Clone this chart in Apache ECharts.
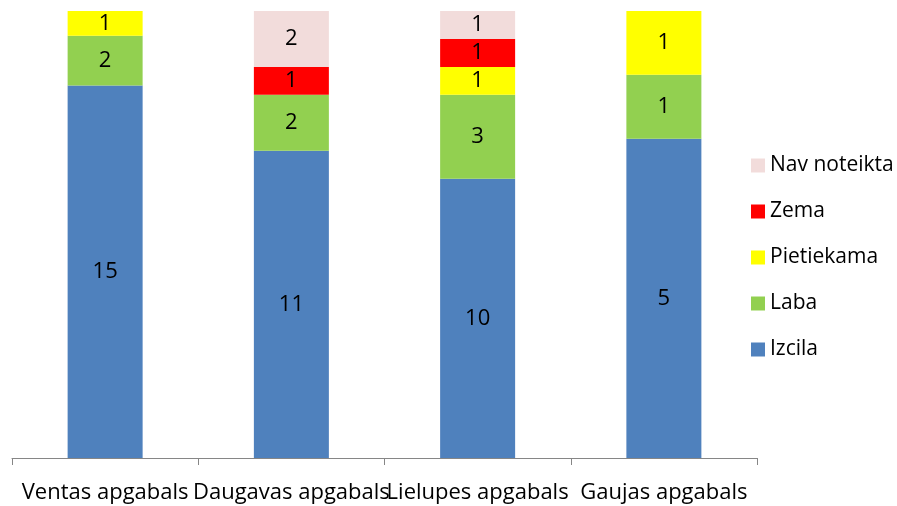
<!DOCTYPE html>
<html>
<head>
<meta charset="utf-8">
<script src="https://cdn.jsdelivr.net/npm/echarts@6/dist/echarts.min.js"></script>
<style>
  html, body { margin: 0; padding: 0; background: #fff; }
  #chart { width: 897px; height: 506px; }
</style>
</head>
<body>
<div id="chart"></div>
<script>
const categories = ["Ventas apgabals", "Daugavas apgabals", "Lielupes apgabals", "Gaujas apgabals"]
const seriesNames = ["Izcila", "Laba", "Pietiekama", "Zema", "Nav noteikta"]
const izcila = [15, 11, 10, 5]
const laba = [2, 2, 3, 1]
const pietiekama = [1, 0, 1, 1]
const zema = [0, 1, 1, 0]
const navNoteikta = [0, 2, 1, 0]
const colors = ["#4F81BD", "#92D050", "#FFFF00", "#FF0000", "#F2DCDB"]

const raw = [izcila, laba, pietiekama, zema, navNoteikta]
const totals = categories.map((_, i) => raw.reduce((s, arr) => s + arr[i], 0))

const font = "'Open Sans', sans-serif"

const chart = echarts.init(document.getElementById("chart"))
chart.setOption({
  animation: false,
  textStyle: { fontFamily: font },
  grid: { left: 12, right: 140, top: 11, bottom: 48 },
  legend: {
    orient: "vertical",
    left: 746,
    top: 150,
    itemWidth: 14,
    itemHeight: 14,
    itemGap: 25,
    icon: "rect",
    data: seriesNames.slice().reverse(),
    textStyle: { fontSize: 21, color: "#000", fontFamily: font }
  },
  xAxis: {
    type: "category",
    data: categories,
    axisLine: { lineStyle: { color: "#868686", width: 1 } },
    axisTick: { show: true, length: 7, lineStyle: { color: "#868686" } },
    axisLabel: { interval: 0, color: "#000", fontSize: 22, margin: 24, fontFamily: font }
  },
  yAxis: {
    type: "value",
    min: 0,
    max: 100,
    show: false,
    splitLine: { show: false }
  },
  series: seriesNames.map((name, s) => ({
    name,
    type: "bar",
    stack: "total",
    barWidth: 75,
    itemStyle: { color: colors[s] },
    label: {
      show: true,
      position: "inside",
      color: "#000",
      fontSize: 22,
      fontFamily: font,
      formatter: (p) => raw[s][p.dataIndex] ? String(raw[s][p.dataIndex]) : ""
    },
    data: raw[s].map((v, i) => v / totals[i] * 100)
  }))
})
</script>
</body>
</html>
